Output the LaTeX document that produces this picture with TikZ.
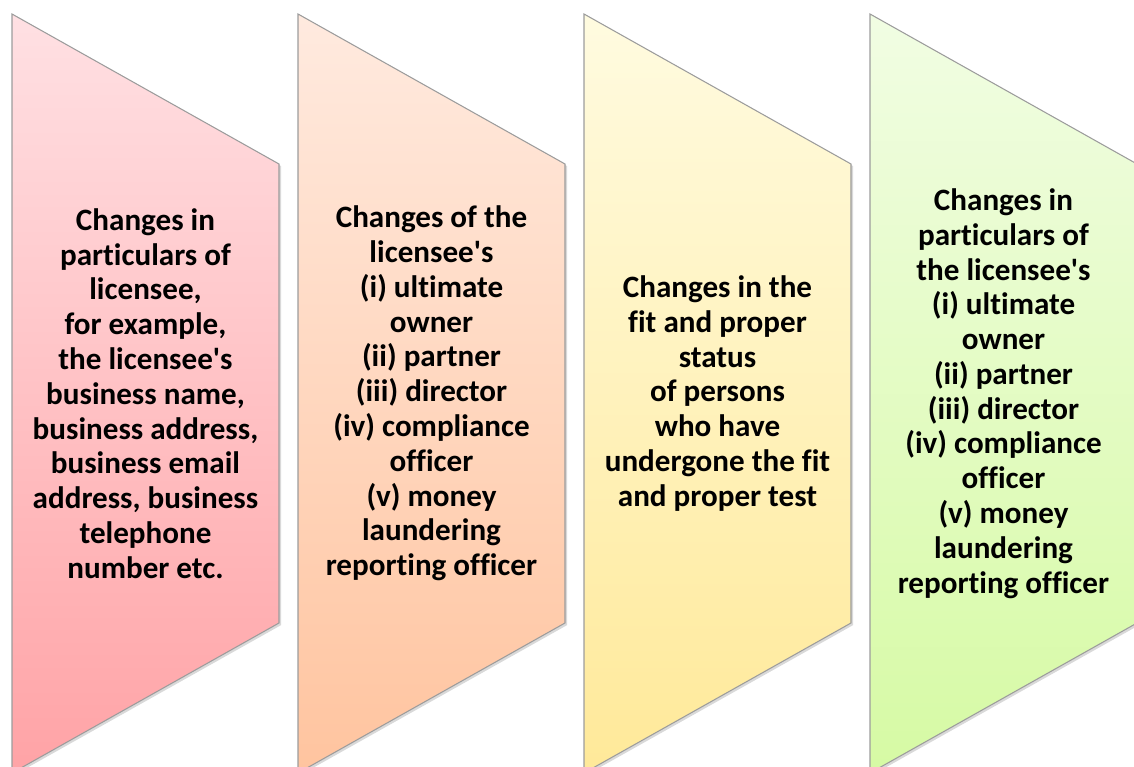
\documentclass[tikz,border=0pt]{standalone}
\usepackage{fontspec}
\setmainfont{Carlito}[Ligatures=NoCommon]
\usepackage{tikz}
\usetikzlibrary{shadows}

\definecolor{pinktop}{HTML}{FFE0E3}
\definecolor{pinkbot}{HTML}{FFA3A6}
\definecolor{peachtop}{HTML}{FFEADF}
\definecolor{peachbot}{HTML}{FFC49F}
\definecolor{yellowtop}{HTML}{FFFBE0}
\definecolor{yellowbot}{HTML}{FFE999}
\definecolor{greentop}{HTML}{F1FDE3}
\definecolor{greenbot}{HTML}{D6FAA4}
\definecolor{bandline}{HTML}{9C9C9C}

\begin{document}
\begin{tikzpicture}[
    x=0.02cm, y=-0.02cm,
    every node/.style={align=center, font=\bfseries\fontsize{17.7}{19.8}\selectfont},
    band/.style={draw=bandline, line width=0.6pt,
        drop shadow={opacity=0.3, shadow xshift=1.2pt, shadow yshift=-1.2pt}}
    ]

\useasboundingbox (0,0) rectangle (1134,767);
\clip (0,0) rectangle (1134,767);

% Bands
\foreach \i/\ctop/\cbot in {0/pinktop/pinkbot, 1/peachtop/peachbot, 2/yellowtop/yellowbot, 3/greentop/greenbot}
  \path[band, top color=\ctop, bottom color=\cbot]
    ({12+286*\i},14) -- ++(267,150) -- ++(0,459) -- ++(-267,150) -- cycle;

% Nodes
\node (particulars) at (145.5,393.5) {Changes in\\particulars of\\licensee,\\for example,\\the licensee\textquotesingle s\\business name,\\business address,\\business email\\address, business\\telephone\\number etc.};
\node (owners) at (431.5,393.5) {Changes of the\\licensee\textquotesingle s\\(i) ultimate\\owner\\(ii) partner\\(iii) director\\(iv) compliance\\officer\\(v) money\\laundering\\reporting officer};
\node (fitproper) at (717.5,393.5) {Changes in the\\fit and proper\\status\\of persons\\who have\\undergone the fit\\and proper test};
\node (ownerdetails) at (1003.5,393.5) {Changes in\\particulars of\\the licensee\textquotesingle s\\(i) ultimate\\owner\\(ii) partner\\(iii) director\\(iv) compliance\\officer\\(v) money\\laundering\\reporting officer};

\end{tikzpicture}
\end{document}
